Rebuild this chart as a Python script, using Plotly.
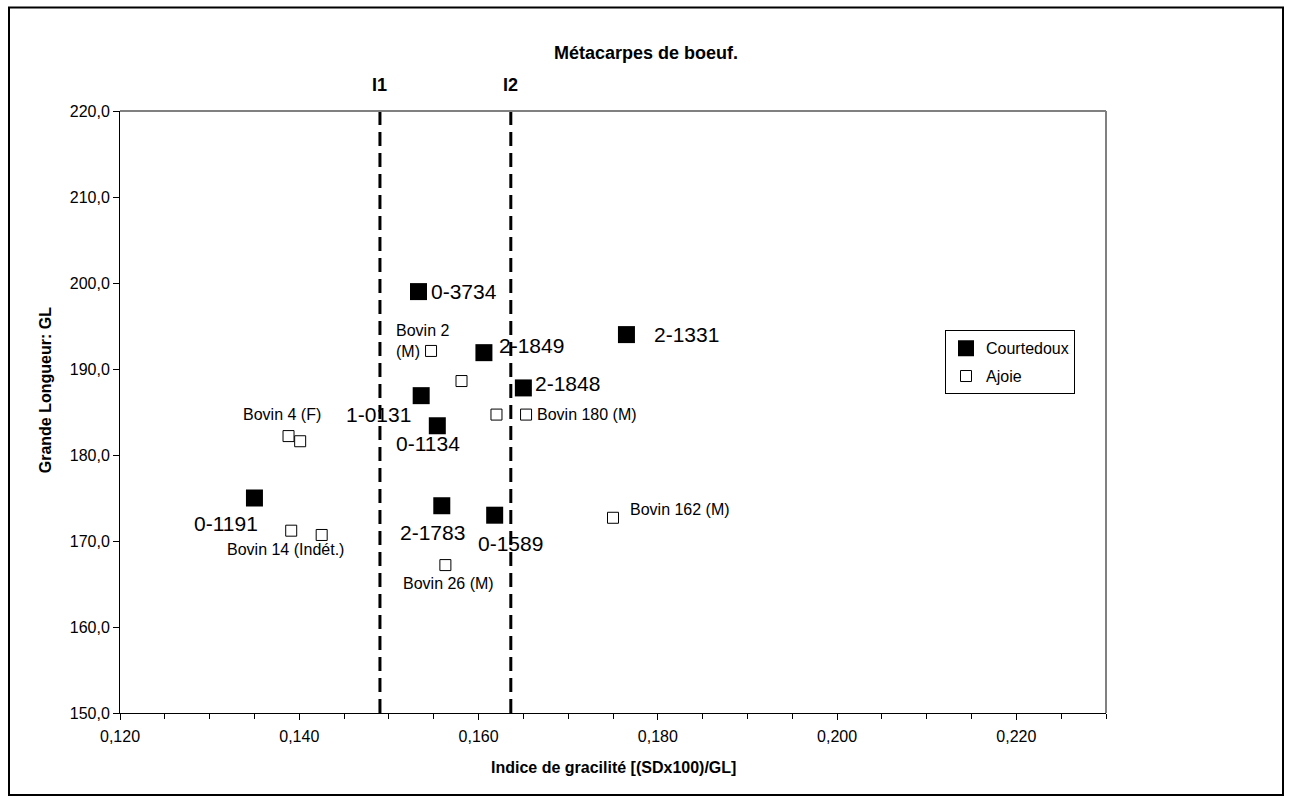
import plotly.graph_objects as go

# ---------------- data ----------------
courtedoux_x = [0.1533, 0.1606, 0.1765, 0.1650, 0.1536, 0.1554, 0.1350, 0.1559, 0.1618]
courtedoux_y = [199.0, 191.9, 194.0, 187.8, 186.9, 183.4, 175.0, 174.1, 173.0]
courtedoux_labels = ["0-3734", "2-1849", "2-1331", "2-1848", "1-0131",
                     "0-1134", "0-1191", "2-1783", "0-1589"]

ajoie_x = [0.1547, 0.1581, 0.1620, 0.1653, 0.1388, 0.1401, 0.1391, 0.1425, 0.1563, 0.1750]
ajoie_y = [192.1, 188.6, 184.7, 184.7, 182.2, 181.6, 171.2, 170.7, 167.2, 172.7]
ajoie_labels = ["Bovin 2<br>(M)", "", "", "Bovin 180 (M)", "Bovin 4 (F)", "",
                "Bovin 14 (Indét.)", "", "Bovin 26 (M)", "Bovin 162 (M)"]

limit_x = [0.1490, 0.1636]
limit_labels = ["I1", "I2"]
y_range = [150, 220]
x_range = [0.120, 0.230]

# ---------------- label placement (pixels) ----------------
c_offsets = {
    "0-3734": ("left", 11, 0),
    "2-1849": ("left", 13, 7),
    "2-1331": ("left", 26, 0),
    "2-1848": ("left", 10, 4),
    "1-0131": ("right", -8, -19),
    "0-1134": ("center", -9, -18),
    "0-1191": ("center", -28, -25),
    "2-1783": ("center", -9, -27),
    "0-1589": ("center", 16, -28),
}
a_offsets = {
    "Bovin 2<br>(M)": ("left", -37, 10),
    "Bovin 180 (M)": ("left", 9, 0),
    "Bovin 4 (F)": ("center", -7, 22),
    "Bovin 14 (Indét.)": ("center", -6, -19),
    "Bovin 26 (M)": ("center", 3, -18),
    "Bovin 162 (M)": ("left", 15, 8),
}

FONT = "Arial, Liberation Sans, sans-serif"
W, H = 1291, 803
L, R, T, B = 120, 1106, 110.5, 713
PW, PH = R - L, B - T


def px(xpix):
    return (xpix - L) / PW


def py(ypix):
    return (B - ypix) / PH


fig = go.Figure()

for xv in limit_x:
    fig.add_trace(go.Scatter(
        x=[xv, xv], y=y_range, mode="lines", showlegend=False, hoverinfo="skip",
        line=dict(color="black", width=3, dash="14px,7px")))

fig.add_trace(go.Scatter(
    x=courtedoux_x, y=courtedoux_y, mode="markers", name="Courtedoux",
    legendgroup="c",
    marker=dict(symbol="square", size=17, color="black", line=dict(width=0))))

fig.add_trace(go.Scatter(
    x=ajoie_x, y=ajoie_y, mode="markers", name="Ajoie", legendgroup="a",
    marker=dict(symbol="square", size=11, color="white",
                line=dict(color="black", width=1))))

annotations = []
for xv, yv, lab in zip(courtedoux_x, courtedoux_y, courtedoux_labels):
    anc, dx, dy = c_offsets[lab]
    annotations.append(dict(x=xv, y=yv, xref="x", yref="y", text=lab,
                            showarrow=False, xanchor=anc, yanchor="middle",
                            xshift=dx, yshift=dy,
                            font=dict(family=FONT, size=21, color="black")))
for xv, yv, lab in zip(ajoie_x, ajoie_y, ajoie_labels):
    if not lab:
        continue
    anc, dx, dy = a_offsets[lab]
    annotations.append(dict(x=xv, y=yv, xref="x", yref="y", text=lab,
                            showarrow=False, xanchor=anc, yanchor="middle",
                            align="left", xshift=dx, yshift=dy,
                            font=dict(family=FONT, size=16, color="black")))

for xv, lab in zip(limit_x, limit_labels):
    annotations.append(dict(x=xv, y=py(84), xref="x", yref="paper", text="<b>%s</b>" % lab,
                            showarrow=False, xanchor="center", yanchor="middle",
                            font=dict(family=FONT, size=18, color="black")))

annotations.append(dict(x=px(646), y=py(52), xref="paper", yref="paper",
                        text="<b>Métacarpes de boeuf.</b>", showarrow=False,
                        xanchor="center", yanchor="middle",
                        font=dict(family=FONT, size=18, color="black")))
annotations.append(dict(x=px(613), y=py(768), xref="paper", yref="paper",
                        text="<b>Indice de gracilité [(SDx100)/GL]</b>", showarrow=False,
                        xanchor="center", yanchor="middle",
                        font=dict(family=FONT, size=16, color="black")))
annotations.append(dict(x=px(45), y=py(390), xref="paper", yref="paper",
                        text="<b>Grande Longueur: GL</b>", showarrow=False, textangle=-90,
                        xanchor="center", yanchor="middle",
                        font=dict(family=FONT, size=16, color="black")))

shapes = [
    dict(type="rect", xref="paper", yref="paper", x0=px(9), x1=px(1283),
         y0=py(795), y1=py(7), line=dict(color="black", width=2), layer="below"),
    dict(type="line", xref="paper", yref="paper", x0=0, x1=1, y0=1, y1=1,
         line=dict(color="#808080", width=2)),
    dict(type="line", xref="paper", yref="paper", x0=1, x1=1, y0=0, y1=1,
         line=dict(color="#808080", width=2)),
]

fig.update_layout(
    width=W, height=H,
    margin=dict(l=L, r=W - R, t=T, b=H - B, pad=0),
    paper_bgcolor="white", plot_bgcolor="white",
    separators=", ",
    font=dict(family=FONT, size=16, color="black"),
    annotations=annotations, shapes=shapes,
    legend=dict(x=px(945), y=py(330), xanchor="left", yanchor="top",
                bordercolor="black", borderwidth=1, bgcolor="white",
                font=dict(family=FONT, size=16, color="black"),
                tracegroupgap=4, itemwidth=30),
    xaxis=dict(range=x_range, tick0=0.12, dtick=0.02, tickformat=".3f",
               showgrid=False, zeroline=False, showline=True, linecolor="black",
               linewidth=1, ticks="outside", ticklen=6, tickcolor="black",
               tickfont=dict(family=FONT, size=16), ticklabelstandoff=3,
               minor=dict(dtick=0.005, ticks="outside", ticklen=5, tickcolor="black",
                          showgrid=False)),
    yaxis=dict(range=y_range, tick0=150, dtick=10, tickformat=".1f",
               showgrid=False, zeroline=False, showline=True, linecolor="black",
               linewidth=1, ticks="outside", ticklen=6, tickcolor="black",
               tickfont=dict(family=FONT, size=16)),
)

fig.write_html("out.html", config={"displayModeBar": False},
               post_script="document.body.style.margin='0';document.body.style.overflow='hidden';")
